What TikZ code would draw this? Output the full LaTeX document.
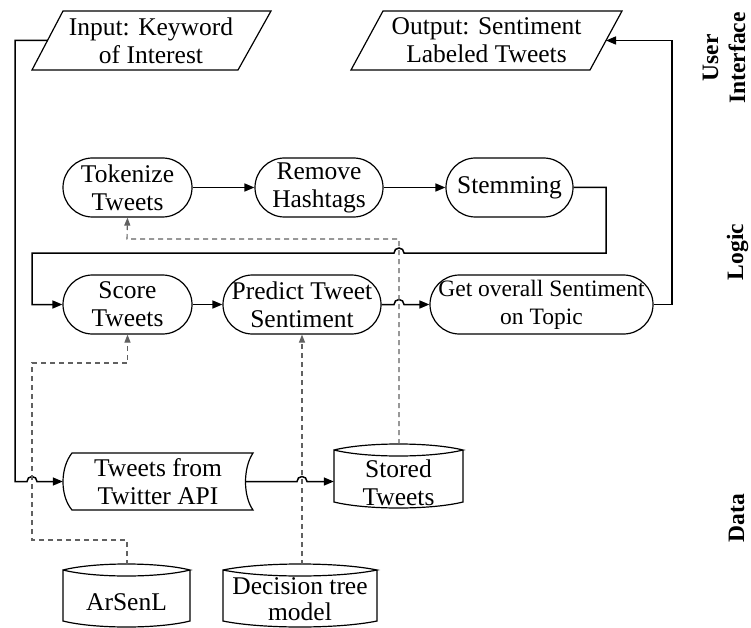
\documentclass[tikz,border=0pt]{standalone}
\usepackage{fontspec}
\setmainfont{Liberation Serif}
\usetikzlibrary{arrows.meta,calc}

% data store: lens-shaped top, straight sides, curved bottom
% #1 left x, #2 right x, #3 top corner y, #4 bottom corner y
\newcommand{\dbshape}[4]{%
  \draw[outline] (#1,#3)
      .. controls ({#1+0.25*(#2-#1)},{#3-8}) and ({#2-0.25*(#2-#1)},{#3-8}) .. (#2,#3)
      .. controls ({#2-0.25*(#2-#1)},{#3+8}) and ({#1+0.25*(#2-#1)},{#3+8}) .. (#1,#3)
      -- (#1,#4)
      .. controls ({#1+0.25*(#2-#1)},{#4+8}) and ({#2-0.25*(#2-#1)},{#4+8}) .. (#2,#4)
      -- (#2,#3);
}

\begin{document}
\begin{tikzpicture}[x=1pt,y=-1pt,
  every node/.style={font=\fontsize{25.5}{28}\selectfont, align=center, inner sep=0pt},
  outline/.style={draw=black, line width=1.2pt},
  proc/.style={draw=black, line width=1.2pt, rectangle, rounded corners=29.5pt,
               minimum height=59pt},
  flow/.style={draw=black, line width=1.5pt, -{Triangle[length=10pt,width=8pt]}},
  dflow/.style={draw=black!62, line width=1.1pt, dash pattern=on 5pt off 4pt,
                -{Triangle[length=8pt,width=6pt]}},
  layer/.style={font=\fontsize{23.5}{27}\selectfont\bfseries, rotate=90}]

\fill[white] (0,0) rectangle (751,628);
\useasboundingbox (0,0) rectangle (751,628);

% ---------- user interface ----------
\draw[outline] (63,11) -- (271,11) -- (238,70) -- (32,70) -- cycle;
\node (in) at (151,40.5) {Input: Keyword\\of Interest};
\coordinate (in-left) at (47.5,40.5);

\draw[outline] (383,11) -- (622,11) -- (590,70) -- (351,70) -- cycle;
\node (out) at (486.5,40.5) {Output: Sentiment\\Labeled Tweets};
\coordinate (out-right) at (606,40.5);

% ---------- logic ----------
\node[proc, minimum width=129pt] (tok)   at (127.5,187.5) {Tokenize\\Tweets};
\node[proc, minimum width=128pt] (rem)   at (319,187.5)   {Remove\\Hashtags};
\node[proc, minimum width=127pt] (stem)  at (509.5,187.5) {Stemming};
\node[proc, minimum width=129pt] (score) at (127.5,304.5) {Score\\Tweets};
\node[proc, minimum width=158pt] (pred)  at (302,304.5)   {Predict Tweet\\Sentiment};
\node[proc, minimum width=223pt, font=\fontsize{23.5}{28}\selectfont] (get) at (541.5,304.5)
     {Get overall Sentiment\\on Topic};

% ---------- data ----------
\draw[outline] (72,453) -- (253,453)
   .. controls (243,468) and (243,496) .. (253,510) -- (72,510)
   .. controls (60,496) and (60,468) .. (72,453) -- cycle;
\node[minimum width=190pt, minimum height=57pt] (api) at (158,481.5) {Tweets from\\Twitter API};
\coordinate (api-east) at (245.5,481.5);

\dbshape{334}{463}{450}{502}
\node[minimum width=129pt] (stored) at (398.5,483) {Stored\\Tweets};
\coordinate (stored-top) at (399,444);

\dbshape{63}{190}{570}{621}
\node (ars) at (126.5,602) {ArSenL};
\coordinate (ars-top) at (127,565);

\dbshape{223}{377}{570}{621}
\node[font=\fontsize{25.5}{26.5}\selectfont] (dec) at (300,599) {Decision tree\\model};
\coordinate (dec-top) at (302,565);

% ---------- layer labels ----------
\node[layer] (ui)  at (724,58)    {User\\Interface};
\node[layer] (lg)  at (737.5,252) {Logic};
\node[layer] (dt)  at (736.5,518) {Data};

% ---------- solid connectors ----------
\draw[flow] (in-left) -| (15,481.5) -- (27,481.5)
   arc[start angle=180, end angle=0, radius=5pt] -- (api.west);
\draw[flow] (tok) -- (rem);
\draw[flow] (rem) -- (stem);
\draw[flow] (stem.east) -- (606,187.5) -- (606,253) -- (404,253)
   arc[start angle=0, end angle=180, radius=5pt] -- (32,253) |- (score.west);
\draw[flow] (score) -- (pred);
\draw[flow] (pred.east) -- (394,304.5)
   arc[start angle=180, end angle=0, radius=5pt] -- (get.west);
\draw[flow] (get.east) -- (672,304.5) |- (out-right);
\draw[flow] (api-east) -- (297,481.5)
   arc[start angle=180, end angle=0, radius=5pt] -- (api-east -| stored.west);

% ---------- dashed connectors ----------
\draw[dflow] (stored-top) |- (127,239) -- (tok.south);
\draw[dflow] (ars-top) |- (32,540) -- (32,363) -| (score.south);
\draw[dflow] (pred.south |- dec-top) -- (pred.south);

\end{tikzpicture}
\end{document}
